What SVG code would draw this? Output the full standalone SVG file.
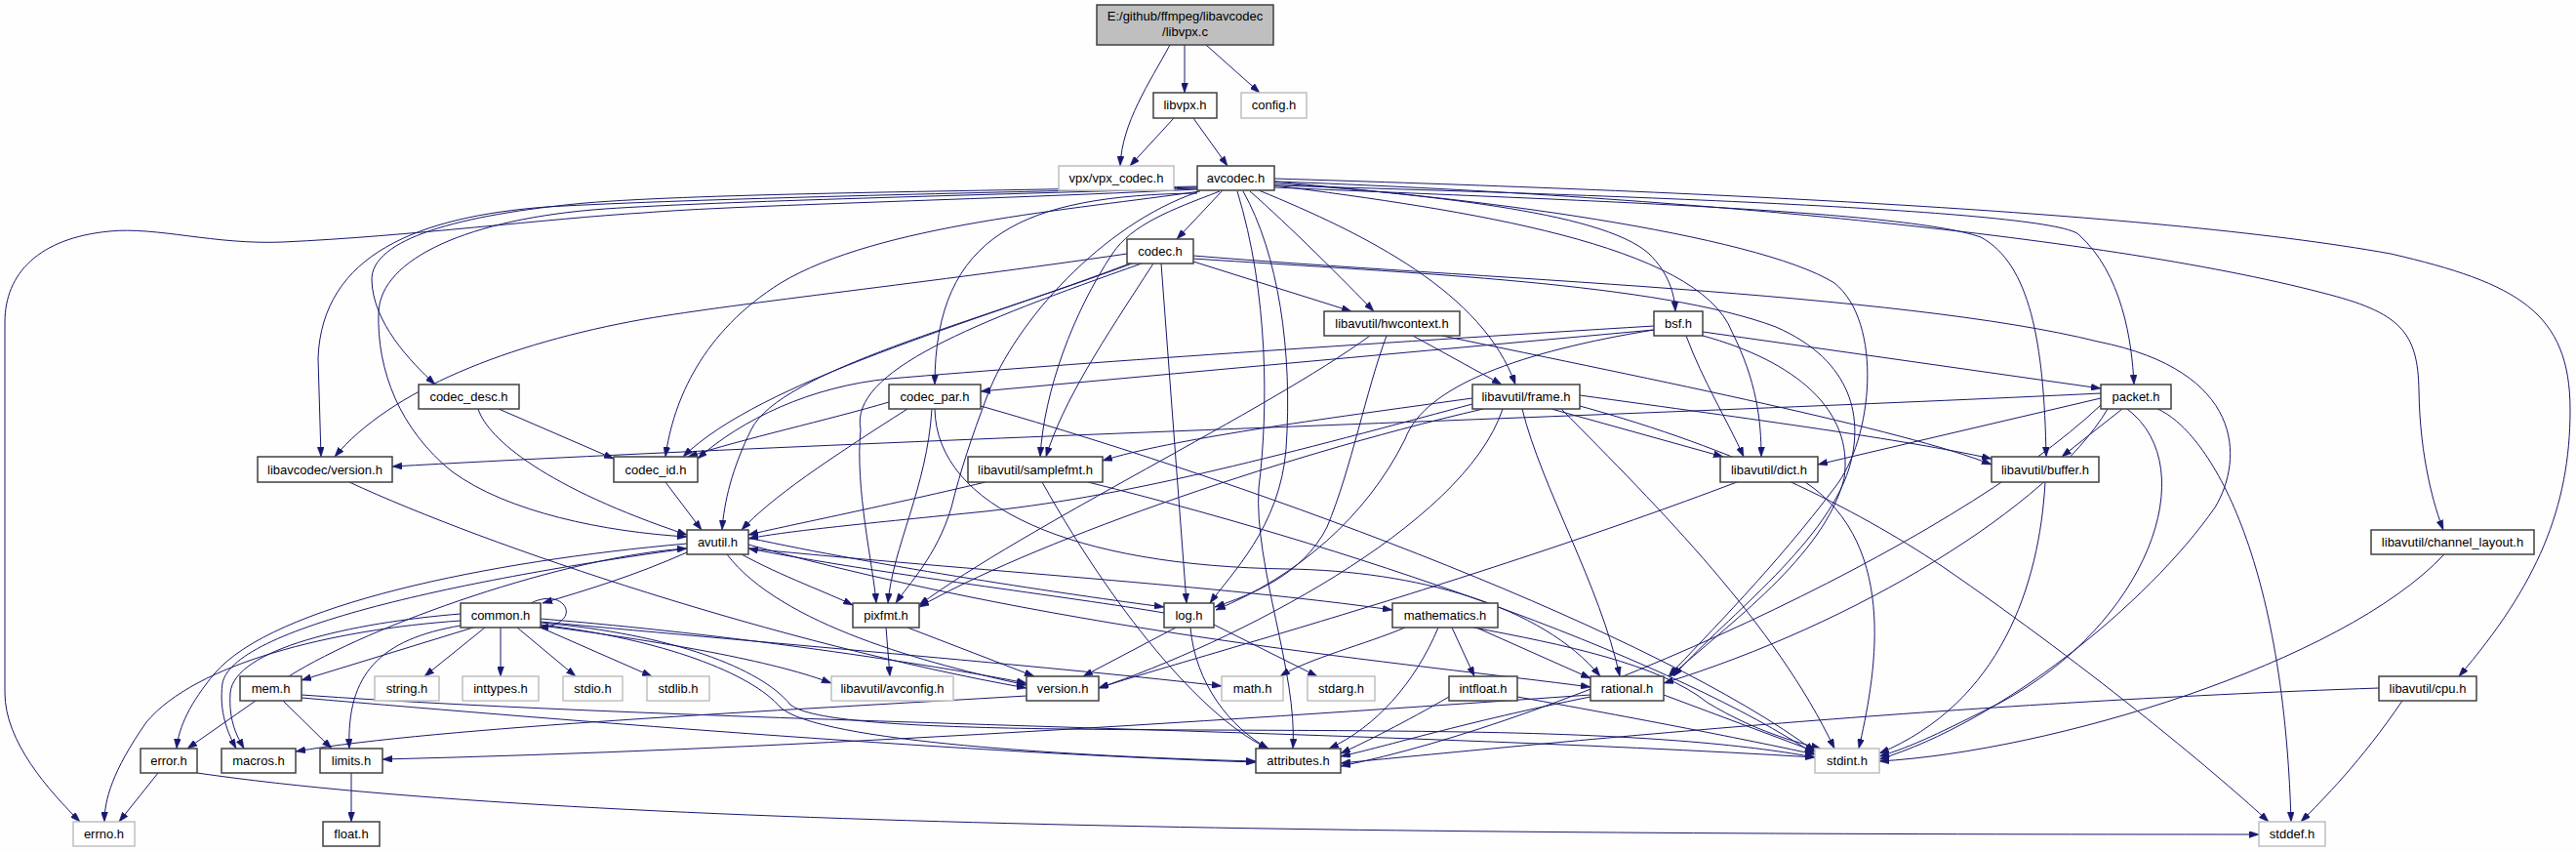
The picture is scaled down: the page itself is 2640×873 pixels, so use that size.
<svg xmlns="http://www.w3.org/2000/svg" width="2640" height="873" viewBox="0 0 2640 873">
<style>
.node rect{fill:#fff;stroke:#404040;stroke-width:1.5}
.node.ext rect{stroke:#bfbfbf}
.node.root rect{fill:#bfbfbf;stroke:#404040}
.node text{font-family:"Liberation Sans",Arial,sans-serif;font-size:13px;fill:#000;text-anchor:middle}
#edges path{fill:none;stroke:#191970;stroke-width:1;marker-end:url(#arr)}
</style>
<defs>
<marker id="arr" viewBox="0 0 10 7" refX="10" refY="3.5" markerWidth="10" markerHeight="7" markerUnits="userSpaceOnUse" orient="auto"><path d="M0,0 L10,3.5 L0,7 z" fill="#191970" stroke="#191970" stroke-width="0.5"/></marker>
</defs>
<rect x="0" y="0" width="2640" height="873" fill="#fdfefd"/>
<g id="edges">
<path d="M1199,46 C1178,85 1150,125 1148,170"/>
<path d="M1214,46 L1214,95"/>
<path d="M1236,46 L1291,95"/>
<path d="M1203,121 L1158,170"/>
<path d="M1223,121 L1258,170"/>
<path d="M1253,195 L1206,245"/>
<path d="M1227,194 C1000,205 760,210 660,218 C560,224 420,242 290,248 C220,251 160,232 112,237 C40,244 5,280 5,330 L5,710 C5,760 50,810 82,842"/>
<path d="M1227,192 C1000,198 720,203 560,212 C430,222 330,260 326,367 L329,468"/>
<path d="M1227,191 C1000,196 720,198 600,208 C470,220 380,245 381,287 C382,330 420,370 446,394"/>
<path d="M1227,193 C1000,200 740,206 620,214 C480,224 390,265 388,320 C386,380 410,440 463,483 C520,525 620,545 704,550"/>
<path d="M1230,196 C1100,215 900,230 800,290 C720,340 690,410 682,468"/>
<path d="M1227,198 C1050,200 958,240 958,394"/>
<path d="M1227,197 C1130,230 1040,330 1012,405 C995,450 985,480 975,520 C960,570 930,600 918,618"/>
<path d="M1250,196 C1200,215 1160,230 1140,260 C1100,320 1070,400 1066,468"/>
<path d="M1274,196 C1310,260 1325,360 1318,460 C1312,540 1260,590 1240,618"/>
<path d="M1281,196 C1320,230 1380,290 1408,319"/>
<path d="M1290,195 C1400,240 1520,300 1553,394"/>
<path d="M1306,186 C1450,200 1640,215 1690,260 C1710,280 1716,300 1717,319"/>
<path d="M1306,190 C1500,215 1740,250 1775,340 C1800,390 1805,430 1805,468"/>
<path d="M1306,188 C1500,200 1800,240 1880,290 C1930,330 1920,450 1880,500 C1820,580 1750,650 1710,693"/>
<path d="M1268,196 C1300,300 1300,420 1290,500 C1285,580 1330,690 1325,767"/>
<path d="M1306,192 C1600,205 1950,215 2030,243 C2080,270 2095,350 2097,468"/>
<path d="M1306,190 C1650,200 2100,215 2130,240 C2175,280 2185,350 2187,394"/>
<path d="M1306,186 C1700,200 2150,240 2380,300 C2460,320 2478,340 2479,400 C2480,470 2495,520 2504,543"/>
<path d="M1306,183 C1700,195 2200,215 2450,260 C2580,290 2634,320 2634,420 C2634,520 2600,600 2520,693"/>
<path d="M1223,262 C1500,285 1950,300 2150,350 C2300,380 2300,470 2270,520 C2200,620 2050,740 1926,778"/>
<path d="M1160,270 C1000,330 800,380 770,440 C750,480 742,515 740,543"/>
<path d="M1223,268 L1385,319"/>
<path d="M1190,270 L1216,618"/>
<path d="M1170,270 C1000,330 870,380 882,440 C876,500 895,580 898,618"/>
<path d="M1223,265 C1450,280 1700,290 1820,335 C1900,370 1910,430 1895,480 C1870,560 1760,640 1715,693"/>
<path d="M1182,270 C1130,350 1090,410 1072,468"/>
<path d="M1155,260 C950,290 760,310 660,327 C520,352 400,400 343,468"/>
<path d="M1158,270 C1000,330 780,390 700,468"/>
<path d="M1478,344 C1700,390 1950,440 2041,476"/>
<path d="M1448,344 L1539,394"/>
<path d="M1421,344 C1400,400 1385,480 1360,540 C1335,590 1280,610 1245,622"/>
<path d="M1404,344 C1300,420 1050,540 942,620"/>
<path d="M1728,344 C1745,390 1770,430 1787,468"/>
<path d="M1695,338 C1560,360 1460,395 1440,450 C1400,530 1330,590 1246,625"/>
<path d="M1745,344 C1840,370 1900,420 1890,490 C1870,570 1770,640 1712,693"/>
<path d="M1695,334 C1400,352 1100,372 912,388 C830,396 760,430 715,470"/>
<path d="M1695,338 L1005,401"/>
<path d="M1745,340 L2153,398"/>
<path d="M490,419 C500,450 560,500 704,548"/>
<path d="M511,419 L629,470"/>
<path d="M1005,416 C1300,500 1700,650 1860,770"/>
<path d="M930,419 C850,470 790,510 760,543"/>
<path d="M958,419 C960,520 1100,580 1320,583 C1450,585 1580,620 1640,693"/>
<path d="M955,419 C950,500 915,560 910,618"/>
<path d="M911,412 C850,430 760,450 705,468"/>
<path d="M1619,416 C1780,460 1900,520 1990,580 C2150,690 2280,800 2325,842"/>
<path d="M1600,419 C1700,520 1820,640 1880,767"/>
<path d="M1509,414 C1300,470 1150,510 1000,525 C880,537 800,545 767,552"/>
<path d="M1619,405 C1800,430 1950,450 2041,470"/>
<path d="M1590,419 L1766,468"/>
<path d="M1560,419 C1580,500 1640,600 1660,693"/>
<path d="M1509,408 C1350,430 1200,450 1130,472"/>
<path d="M1520,419 C1300,470 1050,560 942,622"/>
<path d="M1540,419 C1500,540 1260,660 1126,705"/>
<path d="M2211,419 C2260,440 2340,560 2348,842"/>
<path d="M2180,419 C2260,480 2200,640 2050,720 C1990,750 1960,765 1926,775"/>
<path d="M2153,415 C2000,560 1600,740 1374,785"/>
<path d="M2175,419 L2113,468"/>
<path d="M2153,408 L1863,476"/>
<path d="M2160,419 C2100,520 1900,640 1705,700"/>
<path d="M2153,403 C1700,425 900,450 402,478"/>
<path d="M358,494 C500,560 800,660 1052,705"/>
<path d="M682,494 L719,543"/>
<path d="M1115,494 C1420,570 1720,680 1860,773"/>
<path d="M1010,494 C900,520 800,540 767,548"/>
<path d="M1068,494 C1150,640 1240,740 1300,767"/>
<path d="M1850,494 C1950,560 1920,700 1905,767"/>
<path d="M1780,494 C1500,600 1200,680 1126,705"/>
<path d="M2096,494 C2090,600 2050,720 1926,772"/>
<path d="M2505,568 C2400,680 2100,770 1926,780"/>
<path d="M2462,718 C2420,780 2380,820 2358,842"/>
<path d="M2438,705 C2000,720 1600,760 1374,782"/>
<path d="M704,566 C650,590 600,605 556,618"/>
<path d="M704,557 C500,575 280,620 220,690 C195,720 183,745 181,767"/>
<path d="M704,562 C500,590 240,640 228,700 C224,730 234,752 242,767"/>
<path d="M767,558 C1100,650 1450,680 1630,704"/>
<path d="M745,568 C800,640 950,680 1052,702"/>
<path d="M767,562 C1000,585 1250,600 1427,625"/>
<path d="M767,551 C900,580 1100,610 1193,622"/>
<path d="M1193,628 C1100,612 900,588 767,562"/>
<path d="M760,568 C800,590 850,608 874,620"/>
<path d="M296,693 C380,640 580,570 704,562"/>
<path d="M472,636 C340,645 200,680 150,740 C115,790 107,820 107,842"/>
<path d="M513,643 L513,693"/>
<path d="M472,641 C390,655 355,690 358,767"/>
<path d="M554,637 C800,660 1100,685 1252,703"/>
<path d="M554,638 C690,650 780,685 810,722 C850,755 1200,745 1500,750 C1700,753 1800,765 1860,776"/>
<path d="M530,643 L590,693"/>
<path d="M554,643 L668,693"/>
<path d="M497,643 L435,693"/>
<path d="M554,640 C680,655 770,690 800,725 C840,760 1100,775 1287,780"/>
<path d="M472,629 C360,638 240,665 236,710 C234,740 244,756 250,767"/>
<path d="M554,634 C750,650 950,680 1052,700"/>
<path d="M554,641 C700,660 800,680 852,700"/>
<path d="M485,643 L309,697"/>
<path d="M544,618 C580,600 600,640 552,643"/>
<path d="M290,718 L340,767"/>
<path d="M309,712 C700,740 1400,748 1860,776"/>
<path d="M309,715 C600,740 1000,772 1287,781"/>
<path d="M262,718 L192,767"/>
<path d="M1244,640 L1350,693"/>
<path d="M1220,643 C1225,700 1260,745 1300,767"/>
<path d="M1205,643 L1110,693"/>
<path d="M908,643 L912,693"/>
<path d="M930,643 L1060,693"/>
<path d="M1052,713 C800,728 450,745 303,770"/>
<path d="M1510,643 C1600,660 1700,680 1750,720 C1800,750 1840,760 1866,767"/>
<path d="M1440,643 C1400,660 1340,675 1312,693"/>
<path d="M1474,643 C1450,700 1410,745 1362,767"/>
<path d="M1513,643 L1630,695"/>
<path d="M1488,643 L1511,693"/>
<path d="M1555,714 C1700,740 1800,760 1860,773"/>
<path d="M1485,714 C1440,740 1400,760 1374,772"/>
<path d="M1705,712 L1860,770"/>
<path d="M1630,712 C1200,742 800,768 392,778"/>
<path d="M1630,714 C1500,740 1420,765 1374,775"/>
<path d="M162,792 L122,842"/>
<path d="M202,792 C600,850 1500,855 2315,855"/>
<path d="M360,792 L360,842"/>
</g>
<g id="n_main" class="node root"><rect x="1124" y="5" width="181" height="41"/><text x="1214.5" y="21">E:/github/ffmpeg/libavcodec</text><text x="1214.5" y="37">/libvpx.c</text></g>
<g id="n_libvpx_h" class="node"><rect x="1182" y="95" width="65" height="26"/><text x="1214.5" y="112">libvpx.h</text></g>
<g id="n_config_h" class="node ext"><rect x="1272" y="95" width="67" height="26"/><text x="1305.5" y="112">config.h</text></g>
<g id="n_vpx_codec_h" class="node ext"><rect x="1085" y="170" width="118" height="25"/><text x="1144" y="187">vpx/vpx_codec.h</text></g>
<g id="n_avcodec_h" class="node"><rect x="1227" y="170" width="79" height="25"/><text x="1266.5" y="187">avcodec.h</text></g>
<g id="n_codec_h" class="node"><rect x="1155" y="245" width="68" height="25"/><text x="1189" y="262">codec.h</text></g>
<g id="n_hwcontext_h" class="node"><rect x="1357" y="319" width="139" height="25"/><text x="1426.5" y="336">libavutil/hwcontext.h</text></g>
<g id="n_bsf_h" class="node"><rect x="1695" y="319" width="50" height="25"/><text x="1720" y="336">bsf.h</text></g>
<g id="n_codec_desc_h" class="node"><rect x="429" y="394" width="103" height="25"/><text x="480.5" y="411">codec_desc.h</text></g>
<g id="n_codec_par_h" class="node"><rect x="911" y="394" width="94" height="25"/><text x="958" y="411">codec_par.h</text></g>
<g id="n_frame_h" class="node"><rect x="1509" y="394" width="110" height="25"/><text x="1564" y="411">libavutil/frame.h</text></g>
<g id="n_packet_h" class="node"><rect x="2153" y="394" width="72" height="25"/><text x="2189" y="411">packet.h</text></g>
<g id="n_lavc_version_h" class="node"><rect x="264" y="468" width="138" height="26"/><text x="333" y="485.5">libavcodec/version.h</text></g>
<g id="n_codec_id_h" class="node"><rect x="629" y="468" width="86" height="26"/><text x="672" y="485.5">codec_id.h</text></g>
<g id="n_samplefmt_h" class="node"><rect x="992" y="468" width="138" height="26"/><text x="1061" y="485.5">libavutil/samplefmt.h</text></g>
<g id="n_dict_h" class="node"><rect x="1763" y="468" width="100" height="26"/><text x="1813" y="485.5">libavutil/dict.h</text></g>
<g id="n_buffer_h" class="node"><rect x="2041" y="468" width="110" height="26"/><text x="2096" y="485.5">libavutil/buffer.h</text></g>
<g id="n_avutil_h" class="node"><rect x="704" y="543" width="63" height="25"/><text x="735.5" y="560">avutil.h</text></g>
<g id="n_channel_layout_h" class="node"><rect x="2430" y="543" width="167" height="25"/><text x="2513.5" y="560">libavutil/channel_layout.h</text></g>
<g id="n_common_h" class="node"><rect x="472" y="618" width="82" height="25"/><text x="513" y="635">common.h</text></g>
<g id="n_pixfmt_h" class="node"><rect x="874" y="618" width="68" height="25"/><text x="908" y="635">pixfmt.h</text></g>
<g id="n_log_h" class="node"><rect x="1193" y="618" width="51" height="25"/><text x="1218.5" y="635">log.h</text></g>
<g id="n_mathematics_h" class="node"><rect x="1427" y="618" width="108" height="25"/><text x="1481" y="635">mathematics.h</text></g>
<g id="n_mem_h" class="node"><rect x="246" y="693" width="63" height="25"/><text x="277.5" y="710">mem.h</text></g>
<g id="n_string_h" class="node ext"><rect x="384" y="693" width="66" height="25"/><text x="417" y="710">string.h</text></g>
<g id="n_inttypes_h" class="node ext"><rect x="474" y="693" width="78" height="25"/><text x="513" y="710">inttypes.h</text></g>
<g id="n_stdio_h" class="node ext"><rect x="577" y="693" width="61" height="25"/><text x="607.5" y="710">stdio.h</text></g>
<g id="n_stdlib_h" class="node ext"><rect x="663" y="693" width="64" height="25"/><text x="695" y="710">stdlib.h</text></g>
<g id="n_avconfig_h" class="node ext"><rect x="852" y="693" width="125" height="25"/><text x="914.5" y="710">libavutil/avconfig.h</text></g>
<g id="n_version_h" class="node"><rect x="1052" y="693" width="74" height="25"/><text x="1089" y="710">version.h</text></g>
<g id="n_math_h" class="node ext"><rect x="1252" y="693" width="63" height="25"/><text x="1283.5" y="710">math.h</text></g>
<g id="n_stdarg_h" class="node ext"><rect x="1340" y="693" width="69" height="25"/><text x="1374.5" y="710">stdarg.h</text></g>
<g id="n_intfloat_h" class="node"><rect x="1485" y="693" width="70" height="25"/><text x="1520" y="710">intfloat.h</text></g>
<g id="n_rational_h" class="node"><rect x="1630" y="693" width="75" height="25"/><text x="1667.5" y="710">rational.h</text></g>
<g id="n_cpu_h" class="node"><rect x="2438" y="693" width="100" height="25"/><text x="2488" y="710">libavutil/cpu.h</text></g>
<g id="n_error_h" class="node"><rect x="144" y="767" width="58" height="25"/><text x="173" y="784">error.h</text></g>
<g id="n_macros_h" class="node"><rect x="227" y="767" width="76" height="25"/><text x="265" y="784">macros.h</text></g>
<g id="n_limits_h" class="node"><rect x="328" y="767" width="64" height="25"/><text x="360" y="784">limits.h</text></g>
<g id="n_attributes_h" class="node"><rect x="1287" y="767" width="87" height="25"/><text x="1330.5" y="784">attributes.h</text></g>
<g id="n_stdint_h" class="node ext"><rect x="1860" y="767" width="66" height="25"/><text x="1893" y="784">stdint.h</text></g>
<g id="n_errno_h" class="node ext"><rect x="75" y="842" width="63" height="25"/><text x="106.5" y="859">errno.h</text></g>
<g id="n_float_h" class="node"><rect x="331" y="842" width="58" height="25"/><text x="360" y="859">float.h</text></g>
<g id="n_stddef_h" class="node ext"><rect x="2315" y="842" width="68" height="25"/><text x="2349" y="859">stddef.h</text></g>
</svg>
